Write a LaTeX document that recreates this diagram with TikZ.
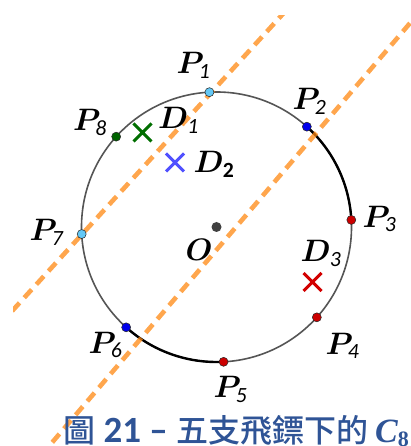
\RequirePackage{fix-cm}
\documentclass[tikz,border=0pt]{standalone}
\usepackage{fontspec}
\usepackage{bm}
\setmainfont{Carlito}
\newfontfamily\cjk{Noto Sans CJK TC Medium}
\newfontfamily\capserif{Liberation Serif}
\usetikzlibrary{positioning, calc, shapes.misc}

\definecolor{rimgray}{RGB}{85,85,85}
\definecolor{lineorange}{RGB}{255,136,17}
\definecolor{ptsky}{RGB}{100,200,245}
\definecolor{ptblue}{RGB}{0,0,235}
\definecolor{ptred}{RGB}{204,0,0}
\definecolor{ptgreen}{RGB}{0,100,0}
\definecolor{dartgreen}{RGB}{0,110,0}
\definecolor{dartblue}{RGB}{80,80,255}
\definecolor{dartred}{RGB}{210,0,0}
\definecolor{capblue}{RGB}{47,84,150}

\begin{document}
\begin{tikzpicture}[
    x=1pt, y=1pt,
    % circle and highlighted arcs
    rim/.style={draw=rimgray, line width=1.6pt},
    darkarc/.style={draw=black, line width=2.4pt},
    % dashed chords
    chord/.style={draw=lineorange, opacity=0.75, line width=4.6pt,
        dash pattern=on 11pt off 7pt},
    % points on the circle
    pt/.style={circle, draw=black!85, line width=0.5pt, inner sep=0pt,
        minimum size=9pt},
    % darts
    dart/.style={cross out, line width=3pt, inner sep=0pt, minimum size=15pt},
    lbl/.style={font=\fontsize{31}{34}\selectfont, inner sep=0pt}
]
    \useasboundingbox (0,0) rectangle (411,446);

    % --- Circle ---
    \coordinate (O) at (216.5,219);
    \draw[rim] (O) circle[radius=135];
    \draw[darkarc] ($(O)+(48:135)$) arc[start angle=48, end angle=3, radius=135];
    \draw[darkarc] ($(O)+(228:135)$) arc[start angle=228, end angle=273, radius=135];

    % --- Dashed lines ---
    \begin{scope}
        \clip (13,0) rectangle (411,430);
        \coordinate (c1a) at (0,121.7);
        \coordinate (c1b) at (295.6,446);
        \coordinate (c2a) at (40.6,-10);
        \coordinate (c2b) at (430,446.3);
        \draw[chord] (c1a) -- (c1b);
        \draw[chord] (c2a) -- (c2b);
    \end{scope}

    % --- Points ---
    \node[circle, fill=black!75, inner sep=0pt, minimum size=10pt] (o) at (O) {};
    \node[pt, fill=ptsky]   (p1) at ($(O)+(93:135)$) {};
    \node[pt, fill=ptblue]  (p2) at ($(O)+(48:135)$) {};
    \node[pt, fill=ptred]   (p3) at ($(O)+(3:135)$) {};
    \node[pt, fill=ptred]   (p4) at ($(O)+(-42:135)$) {};
    \node[pt, fill=ptred]   (p5) at ($(O)+(-87:135)$) {};
    \node[pt, fill=ptblue]  (p6) at ($(O)+(-132:135)$) {};
    \node[pt, fill=ptsky]   (p7) at ($(O)+(183:135)$) {};
    \node[pt, fill=ptgreen] (p8) at ($(O)+(138:135)$) {};

    % --- Darts ---
    \node[dart, draw=dartgreen] (d1) at (142.5,313.5) {};
    \node[dart, draw=dartblue]  (d2) at (175,283.5) {};
    \node[dart, draw=dartred]   (d3) at (312.5,164) {};

    % --- Labels ---
    \node[lbl] (lp1) at (193.5,380.5) {$\bm{P}_{\mathit{1}}$};
    \node[lbl] (lp2) at (309.5,344.5) {$\bm{P}_{\mathit{2}}$};
    \node[lbl] (lp3) at (379.5,227) {$\bm{P}_{\mathit{3}}$};
    \node[lbl] (lp4) at (342.5,100) {$\bm{P}_{\mathit{4}}$};
    \node[lbl] (lp5) at (230.5,56.5) {$\bm{P}_{\mathit{5}}$};
    \node[lbl] (lp6) at (105.5,101) {$\bm{P}_{\mathit{6}}$};
    \node[lbl] (lp7) at (46.5,213.5) {$\bm{P}_{\mathit{7}}$};
    \node[lbl] (lp8) at (90,323.5) {$\bm{P}_{\mathit{8}}$};
    \node[lbl] (ld1) at (178.5,325.5) {$\bm{D}_{\mathit{1}}$};
    \node[lbl] (ld2) at (214,281.5) {$\bm{D}_{\mathbf{2}}$};
    \node[lbl] (ld3) at (321,192.5) {$\bm{D}_{\mathit{3}}$};
    \node[lbl] (lo)  at (199,196) {$\bm{O}$};

    % --- Caption ---
    \node[anchor=base west, inner sep=0pt, text=capblue,
        font=\fontsize{37}{40}\selectfont\bfseries] (cap) at (63,4)
        {{\cjk\mdseries\fontsize{32}{34}\selectfont 圖} 21 –
         {\cjk\mdseries\fontsize{32}{34}\selectfont 五支飛鏢下的}\hspace{7pt}%
         {\capserif\bfseries\itshape\fontsize{34}{36}\selectfont C}%
         \raisebox{-5pt}{\capserif\bfseries\fontsize{22}{24}\selectfont 8}};
\end{tikzpicture}
\end{document}
